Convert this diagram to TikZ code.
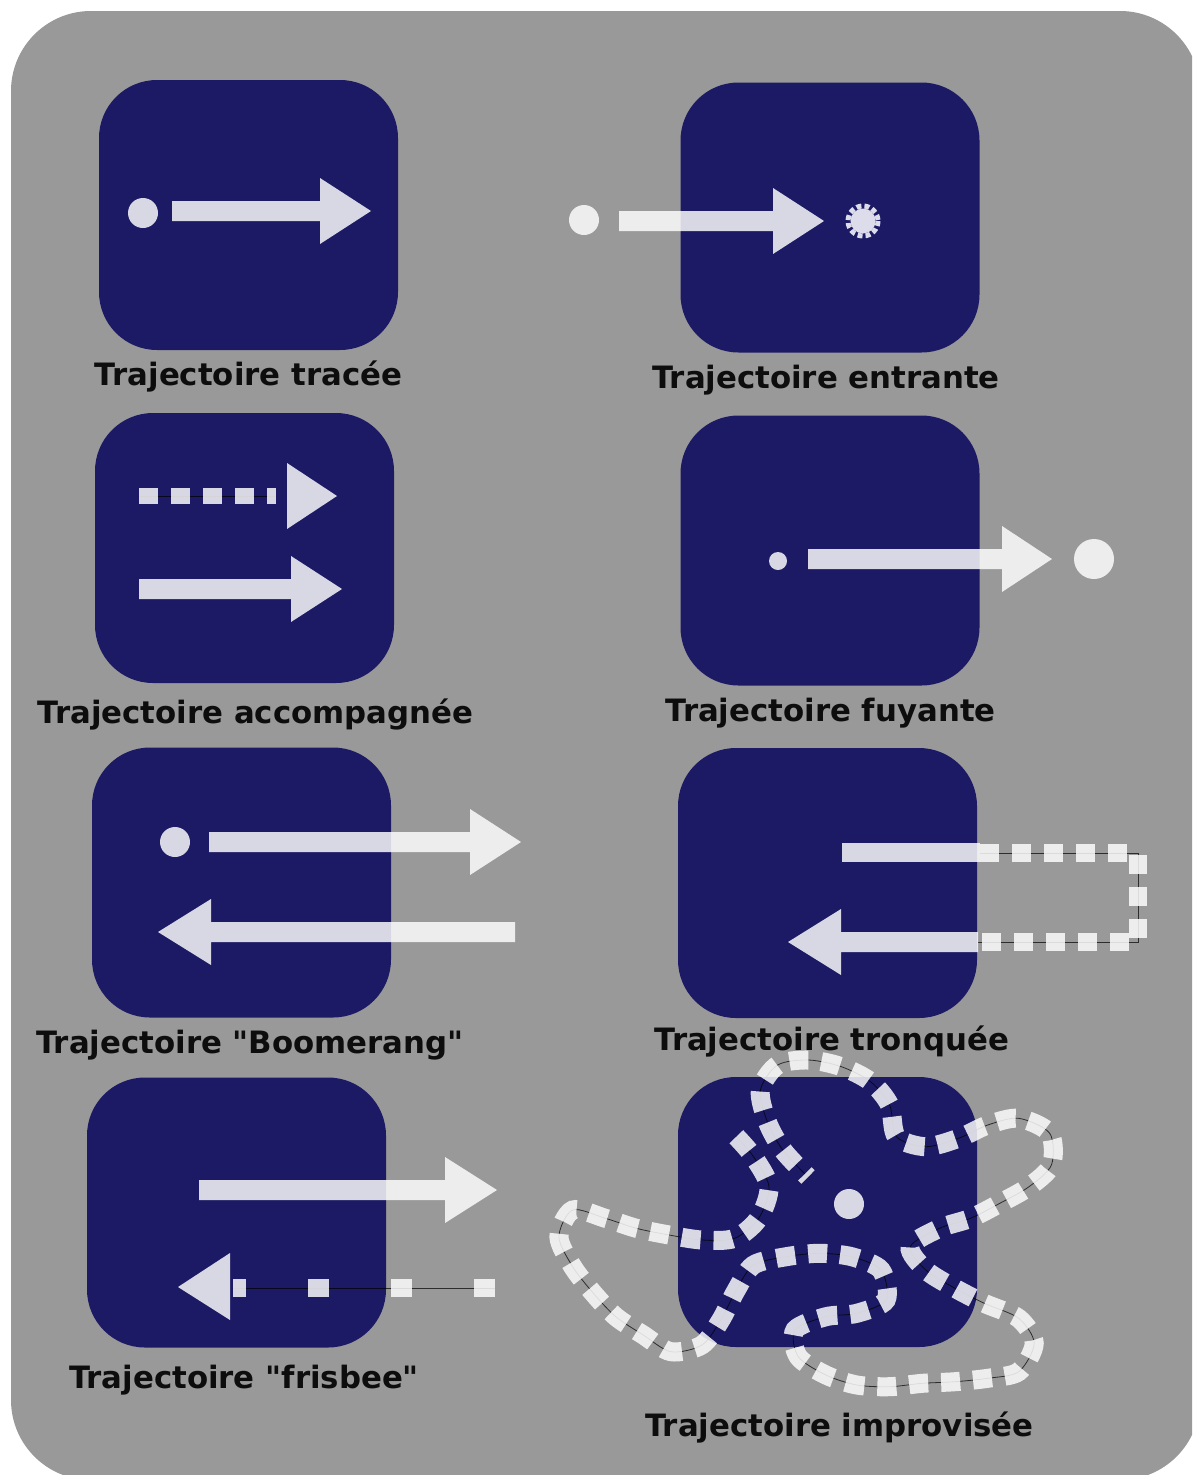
\documentclass[tikz,border=0pt]{standalone}
\usepackage{fontspec}
\setmainfont{DejaVu Sans}[Ligatures=TeXReset]
\definecolor{bggray}{HTML}{999999}
\definecolor{navy}{HTML}{1C1A65}
\definecolor{gearfill}{HTML}{DCDCEB}
% shaft start x, head base x, tip x, y
\newcommand{\arrowpoly}[4]{%
  \fill[ghost] (#1,#4-10) -- (#2,#4-10) -- (#2,#4-33) -- (#3,#4) -- (#2,#4+33) -- (#2,#4+10) -- (#1,#4+10) -- cycle;}
\begin{document}
\begin{tikzpicture}[x=1pt,y=-1pt,
  box/.style={rectangle, fill=navy, draw=none, minimum width=299pt, minimum height=270pt, rounded corners=58pt, inner sep=0pt},
  lbl/.style={anchor=base, inner sep=0pt, text=black!95, font=\fontsize{30.8}{36}\selectfont\bfseries},
  ghost/.style={fill=white, fill opacity=0.83},
  sqdash/.style={draw=white, draw opacity=0.83, line width=19pt, dash pattern=on 19pt off 13pt},
  thread/.style={draw=black, line width=0.8pt, draw opacity=0.7},
  dot/.style={circle, fill=white, fill opacity=0.83, draw=none, inner sep=0pt}]
\useasboundingbox (0,0) rectangle (1192,1475);
\fill[white] (0,0) rectangle (1192,1475);
\begin{scope}
  \clip (0,0) rectangle (1192,1475);
  \fill[bggray, rounded corners=80pt] (11,11) rectangle (1200,1480);
\end{scope}

% boxes
\node[box] (b1) at (248.5,215) {};
\node[box] (b2) at (830,217.5) {};
\node[box] (b3) at (244.5,548) {};
\node[box] (b4) at (830,550.5) {};
\node[box] (b5) at (241.5,882.5) {};
\node[box] (b6) at (827.5,883) {};
\node[box] (b7) at (236.5,1212.5) {};
\node[box] (b8) at (827.5,1212) {};

% labels
\node[lbl] (l1) at (248.5,385) {Trajectoire tracée};
\node[lbl] (l2) at (826,388) {Trajectoire entrante};
\node[lbl] (l3) at (255.5,723) {Trajectoire accompagnée};
\node[lbl] (l4) at (830.5,721) {Trajectoire fuyante};
\node[lbl] (l5) at (250,1053) {Trajectoire "Boomerang"};
\node[lbl] (l6) at (832,1050) {Trajectoire tronquée};
\node[lbl] (l7) at (244,1388) {Trajectoire "frisbee"};
\node[lbl] (l8) at (839.5,1436) {Trajectoire improvisée};

% 1 tracee
\node[dot, minimum size=30pt] (d1) at (143,213) {};
\arrowpoly{172}{320}{371}{211}

% 2 entrante
\node[dot, minimum size=30pt] (d2) at (584,220) {};
\arrowpoly{619}{773}{824}{221}
\fill[gearfill] (863,221) circle (12.5);
\draw[gearfill, line width=5pt, dash pattern=on 5pt off 3pt] (863,221) circle (15);

% 3 accompagnee
\draw[thread] (139,496) -- (276,496);
\draw[sqdash, line width=16pt] (139,496) -- (276,496);
\fill[ghost] (287,463) -- (337,496) -- (287,529) -- cycle;
\arrowpoly{139}{291}{342}{589}

% 4 fuyante
\node[dot, minimum size=18pt] (d4a) at (778,561) {};
\arrowpoly{808}{1002}{1052}{559}
\node[dot, minimum size=40pt] (d4b) at (1094,559) {};

% 5 boomerang
\node[dot, minimum size=30pt] (d5) at (175,842) {};
\arrowpoly{209}{470}{521}{842}
\arrowpoly{515}{211}{158}{932}

% 6 tronquee
\fill[ghost] (842,843) rectangle (980,862);
\draw[thread] (980,853) -- (1138,853) -- (1138,942) -- (978,942);
\draw[sqdash, line width=18pt] (980,853) -- (1138,853) -- (1138,942) -- (978,942);
\arrowpoly{978}{841}{788}{942}

% 7 frisbee
\arrowpoly{199}{445}{497}{1190}
\draw[thread] (495,1288) -- (233,1288);
\draw[sqdash, line width=18pt, dash pattern=on 21pt off 62pt] (495,1288) -- (233,1288);
\fill[ghost] (230,1253) -- (178,1287) -- (230,1320) -- cycle;

% 8 improvisee
\def\impropath{plot[smooth] coordinates {
 (736.3,1136.7) (753.5,1156.7) (769,1186.7) (758.7,1218.3) (734.6,1238.3)
 (701.9,1240) (669.2,1235) (636.4,1228.3) (605.4,1218.3) (572.7,1210)
 (558.9,1236.7) (572.7,1266.7) (593.4,1293.3) (615.8,1316.7) (643.3,1335)
 (670.9,1351.7) (701.9,1345) (720.8,1320) (736.3,1290) (753.5,1265)
 (786.2,1256.7) (819,1253.3) (851.7,1256.7) (881,1270) (886.1,1300)
 (856.8,1313.3) (825.9,1316.7) (794.9,1330) (798.3,1356.7) (825.9,1375)
 (856.8,1385) (889.6,1386.7) (922.3,1383.3) (955,1381.7) (987.7,1378.3)
 (1018.7,1371.7) (1034.2,1343.3) (1018.7,1318.3) (984.3,1303.3) (955,1288.3)
 (925.7,1270) (910.2,1246.7) (939.5,1228.3) (970.5,1218.3) (999.8,1203.3)
 (1029,1186.7) (1051.4,1165) (1049.7,1133.3) (1018.7,1118.3) (987.7,1125)
 (958.4,1138.3) (925.7,1146.7) (896.5,1136.7) (889.6,1105) (870.6,1081.7)
 (841.4,1066.7) (808.6,1060) (777.6,1065) (760.4,1090) (767.3,1121.7)
 (782.8,1150) (808,1177)}}
\draw[thread] \impropath;
\draw[sqdash] \impropath;
\node[dot, minimum size=30pt] (d8) at (849,1204) {};
\end{tikzpicture}
\end{document}
